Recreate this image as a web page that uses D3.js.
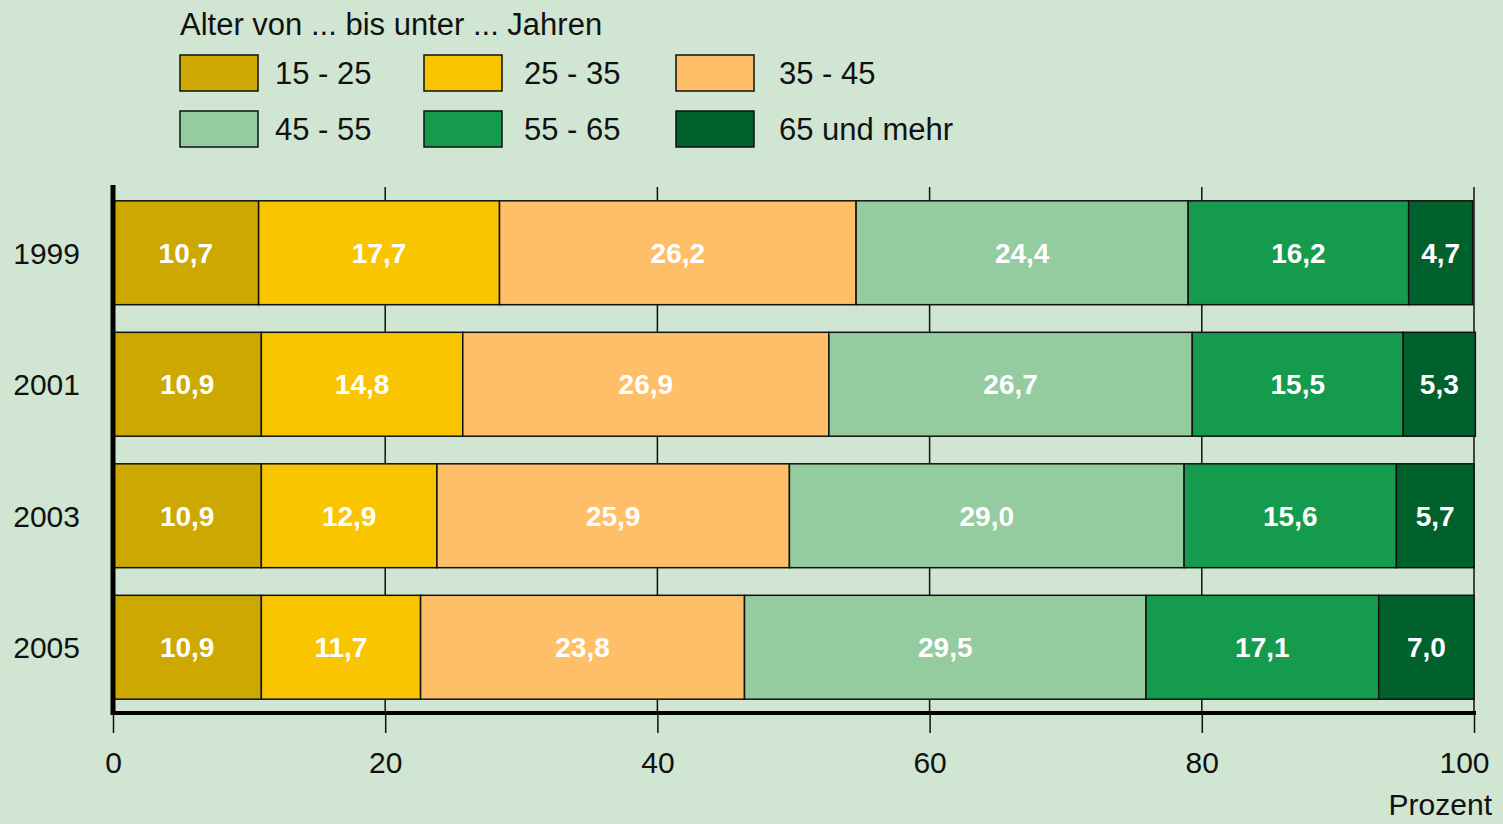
<!DOCTYPE html>
<html lang="de">
<head>
<meta charset="utf-8">
<title>Alter von ... bis unter ... Jahren</title>
<script src="https://d3js.org/d3.v7.min.js"></script>
<style>
    html, body {
        margin: 0;
        padding: 0;
        background: #d0e5d2;
    }
    body {
        font-family: "Liberation Sans", Arial, sans-serif;
    }
    .tick-label, .year-label {
        font-size: 30px;
        fill: #111;
    }
    .legend-label, .legend-title {
        font-size: 31px;
        fill: #111;
    }
    .bar-label {
        font-size: 28px;
        font-weight: bold;
        fill: #fff;
    }
</style>
</head>
<body>
<div id="chart"></div>
<script>
// data
var years = ["1999", "2001", "2003", "2005"];
var ageGroups = ["15 - 25", "25 - 35", "35 - 45", "45 - 55", "55 - 65", "65 und mehr"];
var share1999 = [10.7, 17.7, 26.2, 24.4, 16.2, 4.7];
var share2001 = [10.9, 14.8, 26.9, 26.7, 15.5, 5.3];
var share2003 = [10.9, 12.9, 25.9, 29.0, 15.6, 5.7];
var share2005 = [10.9, 11.7, 23.8, 29.5, 17.1, 7.0];
var xTicks = [0, 20, 40, 60, 80, 100];
var groupColors = ["#cca800", "#f8c500", "#ffbf69", "#94cb9f", "#159b4e", "#01612c"];

var shares = [share1999, share2001, share2003, share2005];

var width = 1503, height = 824;

var svg = d3.select("#chart").append("svg")
    .attr("width", width)
    .attr("height", height);

var x = d3.scaleLinear().domain([0, 100]).range([113, 1474]);
var y = d3.scaleBand().domain(years).range([187, 713])
    .paddingInner(0.21).paddingOuter(0.105);
var color = d3.scaleOrdinal().domain(ageGroups).range(groupColors);

// gridlines at 20..100 (behind bars)
svg.append("g").selectAll("line")
    .data(xTicks.filter(function(d) { return d > 0; }))
    .enter().append("line")
    .attr("x1", function(d) { return x(d); })
    .attr("x2", function(d) { return x(d); })
    .attr("y1", 187)
    .attr("y2", 713)
    .attr("stroke", "#111")
    .attr("stroke-width", 1.5);

// stacked bars
var rows = years.map(function(yr, i) {
    var start = 0;
    return shares[i].map(function(v, j) {
        var seg = { year: yr, group: ageGroups[j], value: v, x0: start, x1: start + v };
        start += v;
        return seg;
    });
});

var rowG = svg.append("g").selectAll("g")
    .data(rows)
    .enter().append("g");

rowG.selectAll("rect")
    .data(function(d) { return d; })
    .enter().append("rect")
    .attr("x", function(d) { return x(d.x0); })
    .attr("y", function(d) { return y(d.year); })
    .attr("width", function(d) { return x(d.x1) - x(d.x0); })
    .attr("height", y.bandwidth())
    .attr("fill", function(d) { return color(d.group); })
    .attr("stroke", "#111")
    .attr("stroke-width", 1.5);

rowG.selectAll("text")
    .data(function(d) { return d; })
    .enter().append("text")
    .attr("class", "bar-label")
    .attr("x", function(d) { return (x(d.x0) + x(d.x1)) / 2; })
    .attr("y", function(d) { return y(d.year) + y.bandwidth() / 2 + 10; })
    .attr("text-anchor", "middle")
    .text(function(d) { return d.value.toFixed(1).replace(".", ","); });

// year labels
svg.append("g").selectAll("text")
    .data(years)
    .enter().append("text")
    .attr("class", "year-label")
    .attr("x", 80)
    .attr("y", function(d) { return y(d) + y.bandwidth() / 2 + 11; })
    .attr("text-anchor", "end")
    .text(function(d) { return d; });

// axes: thick left and bottom lines
svg.append("line")
    .attr("x1", x(0)).attr("x2", x(0))
    .attr("y1", 185).attr("y2", 715)
    .attr("stroke", "#000").attr("stroke-width", 5);
svg.append("line")
    .attr("x1", x(0) - 2).attr("x2", x(100) + 2)
    .attr("y1", 713).attr("y2", 713)
    .attr("stroke", "#000").attr("stroke-width", 4);

var xAxis = d3.axisBottom(x)
    .tickValues(xTicks)
    .tickSize(20)
    .tickPadding(10)
    .tickFormat(d3.format("d"));

var axisG = svg.append("g")
    .attr("transform", "translate(0,713)")
    .call(xAxis);
axisG.select(".domain").remove();
axisG.selectAll(".tick line").attr("stroke", "#111").attr("stroke-width", 1.5);
axisG.selectAll(".tick text")
    .attr("class", "tick-label")
    .attr("fill", "#111")
    .attr("font-family", "Liberation Sans, Arial, sans-serif")
    .attr("font-size", 30)
    .attr("dy", "1.0em")
    .attr("dx", function(d) { return d === 100 ? -10 : 0; });

svg.append("text")
    .attr("class", "tick-label")
    .attr("x", 1492)
    .attr("y", 815)
    .attr("text-anchor", "end")
    .text("Prozent");

// legend
var legendSwatchX = [180, 424, 676];
var legendLabelX = [275, 524, 779];

var legend = svg.append("g");
legend.append("text")
    .attr("class", "legend-title")
    .attr("x", 180)
    .attr("y", 35)
    .text("Alter von ... bis unter ... Jahren");

var item = legend.selectAll("g.item")
    .data(ageGroups)
    .enter().append("g")
    .attr("class", "item")
    .attr("transform", function(d, i) {
        return "translate(0," + (55 + Math.floor(i / 3) * 56) + ")";
    });

item.append("rect")
    .attr("x", function(d, i) { return legendSwatchX[i % 3]; })
    .attr("width", 78)
    .attr("height", 36)
    .attr("fill", function(d) { return color(d); })
    .attr("stroke", "#111")
    .attr("stroke-width", 1.5);

item.append("text")
    .attr("class", "legend-label")
    .attr("x", function(d, i) { return legendLabelX[i % 3]; })
    .attr("y", 29)
    .text(function(d) { return d; });
</script>
</body>
</html>
